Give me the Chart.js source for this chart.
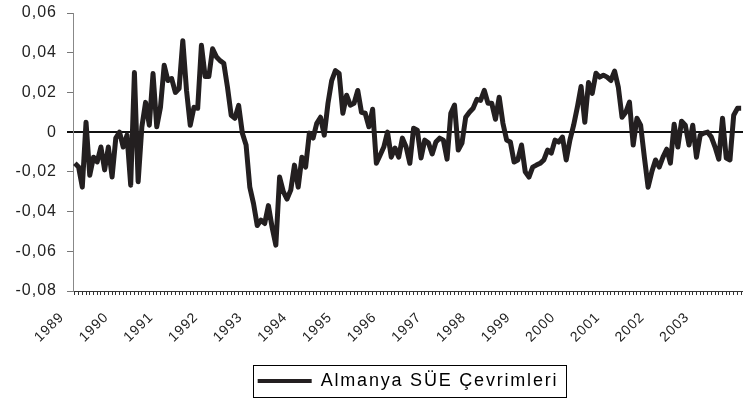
<!DOCTYPE html>
<html>
<head>
<meta charset="utf-8">
<script src="https://cdn.jsdelivr.net/npm/chart.js@4"></script>
<style>
  body { margin: 0; background: #fff; }
  canvas { display: block; }
</style>
</head>
<body>
<canvas id="cycle-chart" width="743" height="400"></canvas>
<script>
// Data
const years = ['1989', '1990', '1991', '1992', '1993', '1994', '1995', '1996',
    '1997', '1998', '1999', '2000', '2001', '2002', '2003'];
const monthNames = ['01', '02', '03', '04', '05', '06', '07', '08', '09', '10', '11', '12'];
const months = years.flatMap(y => monthNames.map(m => y + '-' + m));

const seriesName = 'Almanya SÜE Çevrimleri';
const sueCycles = [
    -0.0157, -0.0176, -0.0277, 0.005, -0.0217, -0.0126, -0.015, -0.0075, -0.019, -0.0075,
    -0.0226, -0.003, 0, -0.0075, -0.0015, -0.0267, 0.030, -0.025, 0.0027, 0.015,
    0.0035, 0.0295, 0.0027, 0.0125, 0.0337, 0.026, 0.027, 0.020, 0.022, 0.046,
    0.021, 0.0035, 0.0125, 0.012, 0.0437, 0.028, 0.028, 0.042, 0.038, 0.036, 0.0347,
    0.0227, 0.0085, 0.007, 0.0135, -0.0005, -0.0065, -0.0277, -0.036, -0.047, -0.0443,
    -0.046, -0.037, -0.048, -0.0569, -0.0226, -0.030, -0.0337, -0.0292, -0.0166, -0.0277,
    -0.0126, -0.0176, -0.0005, -0.003, 0.0045, 0.0075, -0.0015, 0.0145, 0.026, 0.031,
    0.0295, 0.0095, 0.0186, 0.0136, 0.0145, 0.021, 0.010, 0.0095, 0.0027, 0.0115,
    -0.0157, -0.0116, -0.0075, 0, -0.0126, -0.008, -0.0126,
    -0.003, -0.0075, -0.0157, 0.002, 0.001, -0.013, -0.004, -0.0055, -0.011, -0.005,
    -0.003, -0.004, -0.0136, 0.0095, 0.0136, -0.009, -0.0055, 0.0075, 0.010, 0.012,
    0.0165, 0.016, 0.021, 0.0145, 0.0145, 0.0065, 0.0176, 0.0045, -0.004, -0.005,
    -0.015, -0.014, -0.0065, -0.020, -0.0226, -0.0176, -0.0166,
    -0.0157, -0.014, -0.009, -0.0106, -0.004, -0.005, -0.0025, -0.014, -0.004, 0.0035,
    0.0126, 0.023, 0.005, 0.025, 0.0195, 0.0297, 0.0277, 0.0287, 0.0277, 0.026,
    0.0307, 0.0227, 0.0075, 0.010, 0.0151, -0.0065, 0.007, 0.0035, -0.0126, -0.0277,
    -0.020, -0.014, -0.0176, -0.0126, -0.0086, -0.0156, 0.004, -0.0075, 0.0055, 0.0035,
    -0.0065, 0.0035, -0.0126, -0.0015, -0.0005, 0, -0.0025, -0.0075, -0.0136, 0.007,
    -0.013, -0.014, 0.0085, 0.012, 0.012
];
const yTicks = [-0.08, -0.06, -0.04, -0.02, 0, 0.02, 0.04, 0.06];

const FONT = "'Liberation Sans', Arial, sans-serif";

function formatTick(v) {
    if (Math.abs(v) < 1e-9) return '0';
    return v.toFixed(2).replace('.', ',');
}

// letter spacing for axis text, wider one for the legend
const spacingPlugin = {
    id: 'spacing',
    beforeUpdate(chart) { chart.ctx.letterSpacing = '1px'; },
    beforeDraw(chart) { chart.ctx.letterSpacing = '1px'; },
    beforeLayout(chart) {
        const lg = chart.legend;
        if (!lg || lg._wrapped) return;
        lg._wrapped = true;
        const fit = lg.fit;
        const draw = lg.draw;
        lg.fit = function () {
            const old = chart.ctx.letterSpacing;
            chart.ctx.letterSpacing = '1.8px';
            fit.apply(this, arguments);
            chart.ctx.letterSpacing = old;
        };
        lg.draw = function () {
            const ctx = chart.ctx;
            const old = ctx.letterSpacing;
            ctx.letterSpacing = '1.8px';
            draw.apply(this, arguments);
            ctx.letterSpacing = old;
            // box around the legend
            const hb = this.legendHitBoxes[0];
            if (hb) {
                ctx.save();
                ctx.strokeStyle = '#000';
                ctx.lineWidth = 1;
                ctx.strokeRect(Math.round(hb.left - 5) + 0.5, Math.round(hb.top - 7) + 0.5,
                    Math.round(hb.width + 12), Math.round(hb.height + 14));
                ctx.restore();
            }
        };
    }
};

const ctx = document.getElementById('cycle-chart').getContext('2d');
new Chart(ctx, {
    type: 'line',
    data: {
        labels: months,
        datasets: [{
            label: seriesName,
            data: sueCycles,
            borderColor: '#231f20',
            backgroundColor: '#231f20',
            borderWidth: 5,
            borderJoinStyle: 'round',
            pointRadius: 0,
            tension: 0,
            fill: false
        }]
    },
    options: {
        responsive: false,
        animation: false,
        layout: { padding: { top: 13, left: 0, right: 0, bottom: 0 } },
        plugins: {
            tooltip: { enabled: false },
            legend: {
                position: 'bottom',
                fullSize: false,
                labels: {
                    boxWidth: 54,
                    boxHeight: 4,
                    padding: 10,
                    color: '#222',
                    font: { family: FONT, size: 18 },
                    generateLabels: () => [{
                        text: seriesName,
                        fillStyle: '#231f20',
                        strokeStyle: '#231f20',
                        lineWidth: 0,
                        datasetIndex: 0
                    }]
                }
            }
        },
        scales: {
            x: {
                offset: true,
                border: { color: '#333', width: 1 },
                grid: {
                    drawOnChartArea: false,
                    tickLength: 4,
                    tickColor: '#333'
                },
                ticks: {
                    autoSkip: false,
                    maxRotation: 45,
                    minRotation: 45,
                    padding: 14,
                    labelOffset: -13,
                    color: '#222',
                    font: { family: FONT, size: 14 },
                    callback: (val, idx) => idx % 12 === 0 ? months[idx].slice(0, 4) : ''
                },
                afterFit(scale) {
                    scale.height = 71;
                    scale.paddingLeft = 0;
                    scale.paddingRight = 0;
                    scale.paddingTop = 0;
                    scale.paddingBottom = 0;
                }
            },
            y: {
                min: -0.08,
                max: 0.06,
                border: { color: '#888', width: 1 },
                grid: {
                    color: c => (c.tick && Math.abs(c.tick.value) < 1e-9) ? '#111' : 'rgba(0,0,0,0)',
                    lineWidth: c => (c.tick && Math.abs(c.tick.value) < 1e-9) ? 2 : 1,
                    tickColor: c => (c.tick && Math.abs(c.tick.value) < 1e-9) ? '#111' : '#777',
                    tickLength: 6
                },
                ticks: {
                    padding: 10,
                    color: '#222',
                    font: { family: FONT, size: 16 },
                    callback: v => formatTick(v)
                },
                afterBuildTicks(scale) {
                    scale.ticks = yTicks.map(v => ({ value: v }));
                },
                afterFit(scale) {
                    scale.width = 73;
                    scale.paddingTop = 0;
                    scale.paddingBottom = 0;
                }
            }
        }
    },
    plugins: [spacingPlugin]
});
</script>
</body>
</html>
